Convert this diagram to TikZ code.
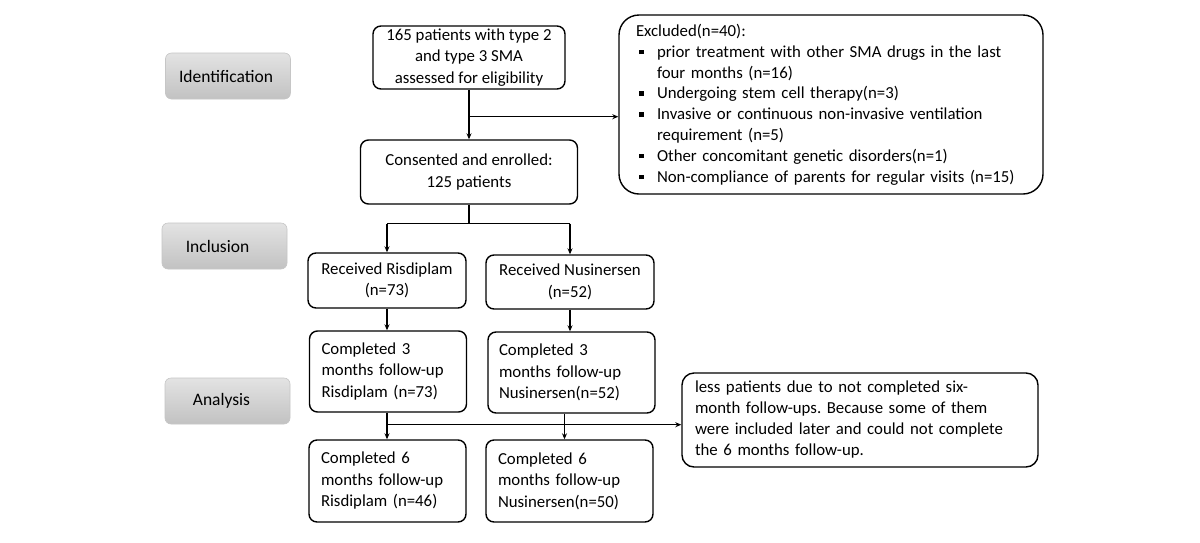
\documentclass[tikz,border=0pt]{standalone}
\usepackage{fontspec}
\setmainfont{Carlito}
\usetikzlibrary{arrows.meta,calc}
\frenchspacing
\begin{document}
\begin{tikzpicture}[x=1pt,y=-1pt,
  every node/.style={font=\fontsize{16.8}{21.5}\selectfont},
  box/.style={draw=black,line width=1.4pt,rounded corners=8pt,inner sep=0pt},
  stage/.style={rounded corners=6pt,draw=gray!45,line width=0.6pt,top color=gray!22,bottom color=gray!48,
    minimum width=125pt,minimum height=46pt,inner sep=0pt,font=\fontsize{17.5}{21}\selectfont},
  conn/.style={line width=1.4pt},
  arr/.style={conn,-{Stealth[length=6pt,width=5pt]}}
]
\useasboundingbox[fill=white] (0,0) rectangle (1200,542);

% stage labels
\node[stage] (ident) at (228,76) {Identification\hspace*{4pt}};
\node[stage] (incl) at (224.5,246) {Inclusion\hspace*{14pt}};
\node[stage] (anal) at (227.5,401) {Analysis\hspace*{12pt}};

% main boxes
\node[box,minimum width=192pt,minimum height=63pt,align=center] (top) at (469,57.5)
  {165 patients with type 2\\and type 3 SMA\\assessed for eligibility};
\node[box,minimum width=217pt,minimum height=64pt,align=center] (cons) at (469,172)
  {Consented and enrolled:\\125 patients};
\node[box,rounded corners=20pt,minimum width=424pt,minimum height=179pt,text width=390pt,align=left,
  font=\fontsize{16.8}{20.8}\selectfont] (excl) at (831,104.5)
  {Excluded(n=40):\\
   \makebox[21pt][l]{\hspace*{3pt}\rule[3pt]{4.5pt}{4.5pt}}prior treatment with other SMA drugs in the last\\
   \hspace*{21pt}four months (n=16)\\
   \makebox[21pt][l]{\hspace*{3pt}\rule[3pt]{4.5pt}{4.5pt}}Undergoing stem cell therapy(n=3)\\
   \makebox[21pt][l]{\hspace*{3pt}\rule[3pt]{4.5pt}{4.5pt}}Invasive or continuous non-invasive ventilation\\
   \hspace*{21pt}requirement (n=5)\\
   \makebox[21pt][l]{\hspace*{3pt}\rule[3pt]{4.5pt}{4.5pt}}Other concomitant genetic disorders(n=1)\\
   \makebox[21pt][l]{\hspace*{3pt}\rule[3pt]{4.5pt}{4.5pt}}Non-compliance of parents for regular visits (n=15)};

\node[box,minimum width=158pt,minimum height=55pt,align=center] (ris) at (387,280.5)
  {Received Risdiplam\\(n=73)};
\node[box,minimum width=168pt,minimum height=54pt,align=center] (nus) at (570,282)
  {Received Nusinersen\\(n=52)};

\node[box,minimum width=157pt,minimum height=81pt,text width=133pt,align=left] (c3r) at (388,371.5)
  {Completed 3\\months follow-up\\Risdiplam (n=73)};
\node[box,minimum width=167pt,minimum height=81pt,text width=145pt,align=left] (c3n) at (571.5,372.5)
  {Completed 3\\months follow-up\\Nusinersen(n=52)};

\node[box,minimum width=157pt,minimum height=82pt,text width=133pt,align=left] (c6r) at (387.5,481)
  {Completed 6\\months follow-up\\Risdiplam (n=46)};
\node[box,minimum width=167pt,minimum height=82pt,text width=143pt,align=left] (c6n) at (569.5,481)
  {Completed 6\\months follow-up\\Nusinersen(n=50)};

\node[box,rounded corners=12pt,minimum width=356pt,minimum height=94pt,text width=330pt,align=left,
  font=\fontsize{16.8}{21}\selectfont] (note) at (860,420)
  {less patients due to not completed six-\\month follow-ups. Because some of them\\were included later and could not complete\\the 6 months follow-up.};

% connectors
\draw[arr] (top.south) -- (cons.north);
\coordinate (b1) at ($(top.south)+(0,27)$);
\draw[arr] (b1) -- (b1 -| excl.west);

\coordinate (j1) at ($(cons.south)+(0,19)$);
\draw[conn] (cons.south) -- (j1);
\draw[conn] (j1 -| ris.north) -- (j1 -| nus.north);
\draw[arr] (j1 -| ris.north) -- (ris.north);
\draw[arr] (j1 -| nus.north) -- (nus.north);

\draw[arr] (ris.south) -- (c3r.north -| ris.south);
\draw[arr] (nus.south) -- (c3n.north -| nus.south);

\coordinate (c3rb) at (c3r.south -| ris.south);
\coordinate (c3nb) at ($(c3n.south)+(-7,0)$);
\coordinate (h) at ($(c3rb)+(0,12)$);
\draw[conn] (c3rb) -- (h);
\draw[conn] (c3nb) -- (c3nb |- h);
\draw[arr] (h) -- (h -| note.west);
\draw[arr] (h) -- (h |- c6r.north);
\draw[arr] (c3nb |- h) -- (c3nb |- c6n.north);
\end{tikzpicture}
\end{document}
